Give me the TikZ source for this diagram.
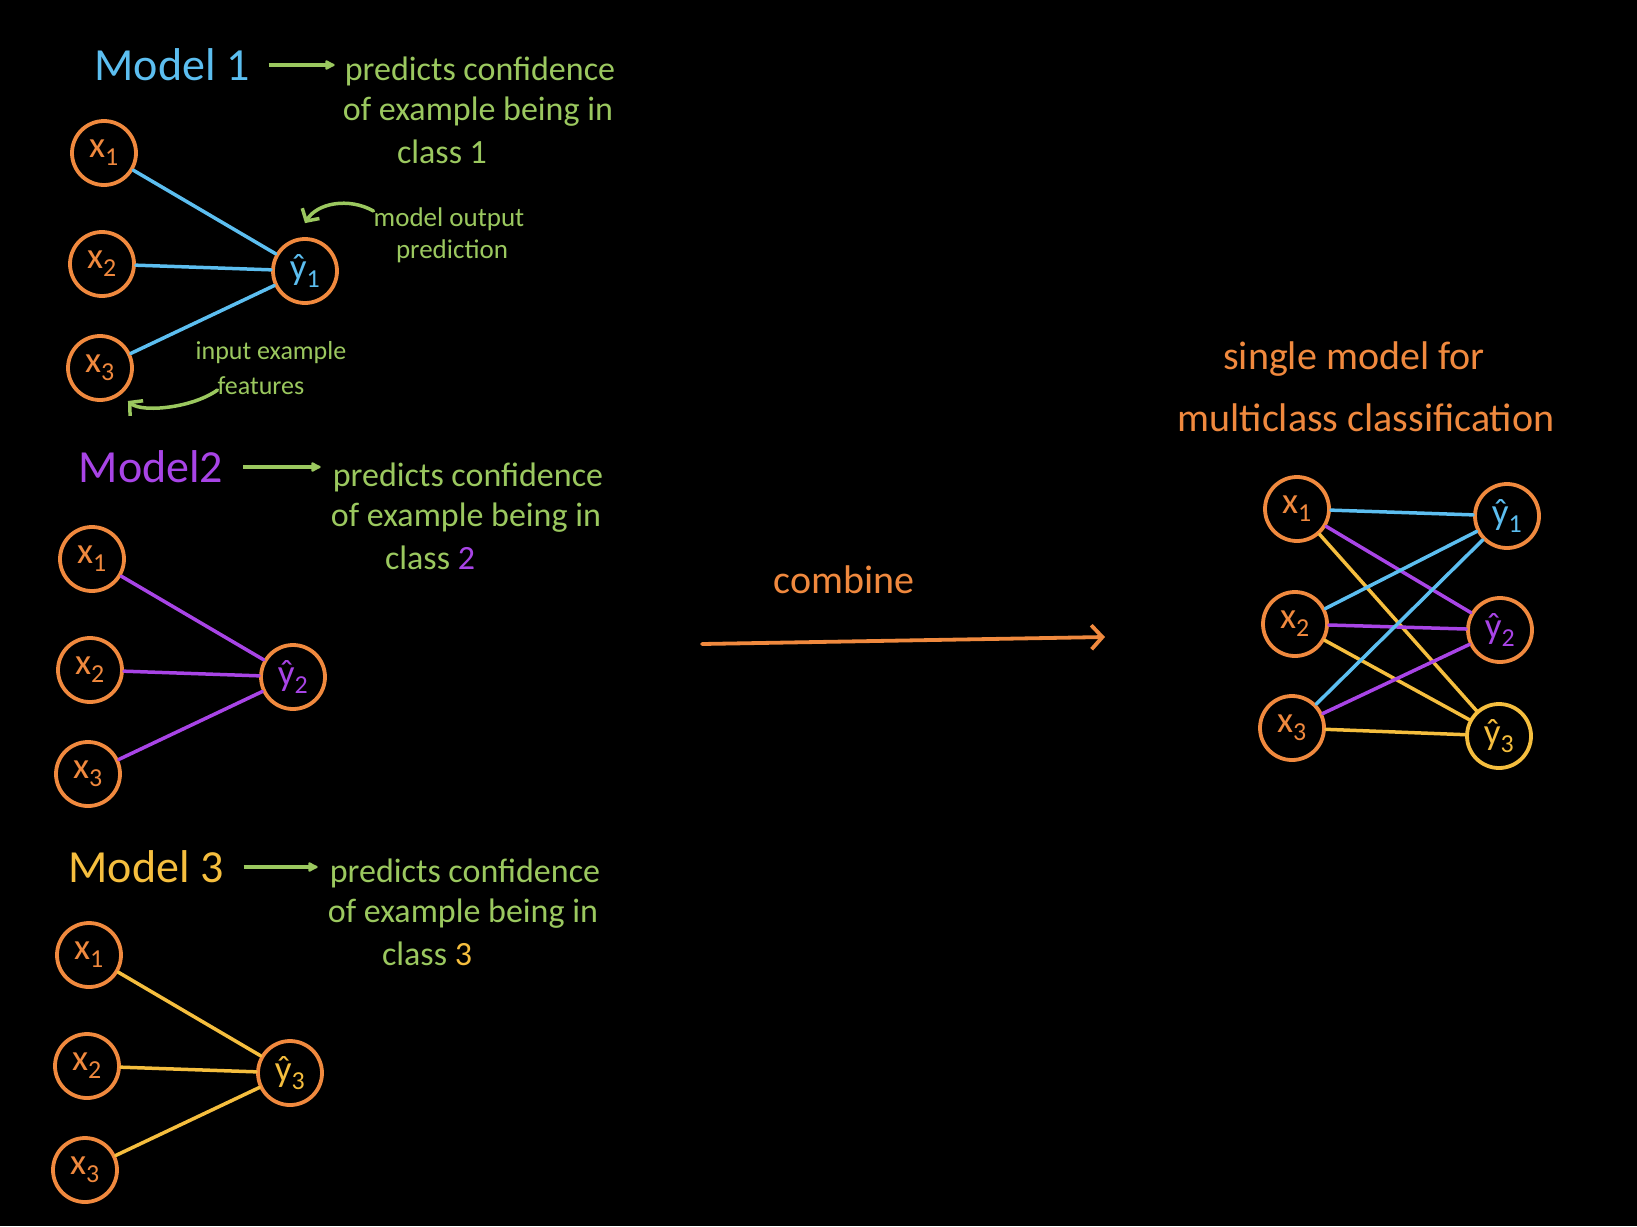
\documentclass[tikz,border=0pt]{standalone}
\usepackage{fontspec}
\setmainfont{Carlito}
\usetikzlibrary{arrows.meta, positioning}

\definecolor{skorange}{RGB}{240,137,62}
\definecolor{skblue}{RGB}{92,190,240}
\definecolor{skpurple}{RGB}{168,68,230}
\definecolor{skyellow}{RGB}{245,190,62}
\definecolor{skgreen}{RGB}{155,200,95}

\begin{document}
\begin{tikzpicture}[x=1pt, y=-1pt,
	neuron/.style={circle, draw=skorange, line width=3.8pt, minimum size=64pt, inner sep=0pt,
		text=skorange, font=\fontsize{37}{40}\selectfont},
	wire/.style={line width=3.5pt, line cap=round},
	modelname/.style={inner sep=0pt, font=\fontsize{46}{52}\selectfont},
	note/.style={inner sep=0pt, text=skgreen, font=\fontsize{34}{40}\selectfont},
	smallnote/.style={inner sep=0pt, text=skgreen, font=\fontsize{27}{32}\selectfont},
	pointer/.style={skgreen, line width=3.5pt, -{Latex[length=12pt, width=12pt, round]}},
	callout/.style={skgreen, line width=3.5pt, line cap=round, -{Straight Barb[length=9pt, width=20pt]}}]

	\fill[black] (0,0) rectangle (1637,1226);
	\useasboundingbox (0,0) rectangle (1637,1226);

	% Model 1: blue
	\begin{scope}[shift={(0,0)}]
		\node[modelname, text=skblue] (m1) at (172,65) {Model 1};
		\node[note] (d1) at (480,71) {predicts confidence};
		\node[note] (e1) at (478,112) {of example being in};
		\node[note] (f1) at (442,152) {class 1};
		\coordinate (k1) at (m1.east -| d1.west);
		\draw[pointer] ([xshift=19pt]m1.east) -- ([xshift=-10pt]k1);
		\node[neuron] (a1) at (104,153) {x\textsubscript{1}};
		\node[neuron] (a2) at (102,264) {x\textsubscript{2}};
		\node[neuron] (a3) at (100,368) {x\textsubscript{3}};
		\node[neuron, text=skblue] (p1) at (305,271) {\^y\textsubscript{1}};
		\draw[wire, skblue] (a1) -- (p1);
		\draw[wire, skblue] (a2) -- (p1);
		\draw[wire, skblue] (a3) -- (p1);
		% notes on the first model
		\node[smallnote] (mo) at (449,219) {model output};
		\node[smallnote] (pr) at (452,251) {prediction};
		\node[smallnote, font=\fontsize{26}{30}\selectfont] (ie) at (271,353) {input example};
		\node[smallnote, font=\fontsize{26}{30}\selectfont] (ft) at (261,386) {features};
		\draw[callout] ([yshift=8pt]mo.west) .. controls +(-25,-14) and +(12,-20) .. ([yshift=14pt]p1.north);
		\draw[callout] ([yshift=-4pt]ft.west) .. controls +(-25,18) and +(14,12) .. ([shift={(4pt,-9pt)}]a3.south east);
	\end{scope}

	% Model 2: purple
	\begin{scope}[shift={(-12,406)}]
		\node[modelname, text=skpurple] (m2) at (163,61) {Model2};
		\node[note] (d2) at (480,71) {predicts confidence};
		\node[note] (e2) at (478,112) {of example being in};
		\node[note] (f2) at (442,152) {class \textcolor{skpurple}{2}};
		\coordinate (k2) at (m2.east -| d2.west);
		\draw[pointer] ([xshift=20pt]m2.east) -- ([xshift=-12pt]k2);
		\node[neuron] (b1) at (104,153) {x\textsubscript{1}};
		\node[neuron] (b2) at (102,264) {x\textsubscript{2}};
		\node[neuron] (b3) at (100,368) {x\textsubscript{3}};
		\node[neuron, text=skpurple] (p2) at (305,271) {\^y\textsubscript{2}};
		\draw[wire, skpurple] (b1) -- (p2);
		\draw[wire, skpurple] (b2) -- (p2);
		\draw[wire, skpurple] (b3) -- (p2);
	\end{scope}

	% Model 3: yellow
	\begin{scope}[shift={(-15,802)}]
		\node[modelname, text=skyellow] (m3) at (161,65) {Model 3};
		\node[note] (d3) at (480,71) {predicts confidence};
		\node[note] (e3) at (478,112) {of example being in};
		\node[note] (f3) at (442,152) {class \textcolor{skyellow}{3}};
		\coordinate (k3) at (m3.east -| d3.west);
		\draw[pointer] ([xshift=20pt]m3.east) -- ([xshift=-12pt]k3);
		\node[neuron] (c1) at (104,153) {x\textsubscript{1}};
		\node[neuron] (c2) at (102,264) {x\textsubscript{2}};
		\node[neuron] (c3) at (100,368) {x\textsubscript{3}};
		\node[neuron, text=skyellow] (p3) at (305,271) {\^y\textsubscript{3}};
		\draw[wire, skyellow] (c1) -- (p3);
		\draw[wire, skyellow] (c2) -- (p3);
		\draw[wire, skyellow] (c3) -- (p3);
	\end{scope}

	% combine arrow
	\node[modelname, text=skorange, font=\fontsize{40}{46}\selectfont] (cb) at (844,580) {combine};
	\coordinate (cs) at (702,644);
	\coordinate (ce) at (1105,637);
	\draw[skorange, line width=3.8pt, line cap=round, -{Straight Barb[length=11pt, width=24pt]}] (cs) -- (ce);

	% single multiclass model
	\node[modelname, text=skorange, font=\fontsize{40}{46}\selectfont] (t1) at (1354,359) {single model for};
	\node[modelname, text=skorange, font=\fontsize{40}{46}\selectfont] (t2) at (1366,418) {multiclass classification};
	\node[neuron] (r1) at (1297,509) {x\textsubscript{1}};
	\node[neuron] (r2) at (1295,624) {x\textsubscript{2}};
	\node[neuron] (r3) at (1292,728) {x\textsubscript{3}};
	\node[neuron, text=skblue] (q1) at (1507,516) {\^y\textsubscript{1}};
	\node[neuron, text=skpurple] (q2) at (1500,630) {\^y\textsubscript{2}};
	\node[neuron, draw=skyellow, text=skyellow] (q3) at (1499,736) {\^y\textsubscript{3}};
	\draw[wire, skyellow] (r1) -- (q3);
	\draw[wire, skyellow] (r2) -- (q3);
	\draw[wire, skyellow] (r3) -- (q3);
	\draw[wire, skpurple] (r1) -- (q2);
	\draw[wire, skpurple] (r2) -- (q2);
	\draw[wire, skpurple] (r3) -- (q2);
	\draw[wire, skblue] (r1) -- (q1);
	\draw[wire, skblue] (r2) -- (q1);
	\draw[wire, skblue] (r3) -- (q1);
\end{tikzpicture}
\end{document}
